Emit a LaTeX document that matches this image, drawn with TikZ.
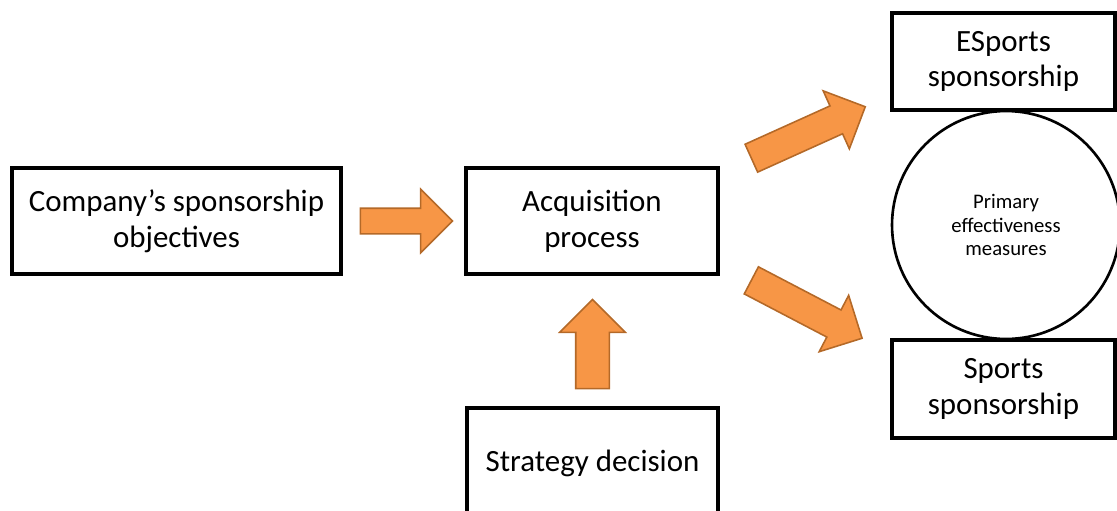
\documentclass[tikz,border=0pt]{standalone}
\usepackage{fontspec}
\setmainfont{Carlito}
\usetikzlibrary{shapes.arrows,positioning}

\definecolor{arrowfill}{HTML}{F79646}
\definecolor{arrowline}{RGB}{180,105,40}

\tikzset{
    box/.style={draw, line width=1.9pt, align=center, inner sep=0pt,
        font=\fontsize{17.6}{20.4}\selectfont},
    blockarrow/.style={single arrow, draw=arrowline, fill=arrowfill,
        line width=0.9pt, inner xsep=0pt, anchor=tail}
}

\begin{document}
\begin{tikzpicture}[x=0.02cm,y=-0.02cm]
        \useasboundingbox (0,0) rectangle (1117,511);
        % boxes
        \node[box, minimum width=6.58cm, minimum height=2.12cm] (comp) at (176.5,221) {Company’s sponsorship\\objectives};
        \node[box, minimum width=5.04cm, minimum height=2.12cm] (acq) at (592,221) {Acquisition\\process};
        \node[box, minimum width=5.02cm, minimum height=2.2cm] (strat) at (592.5,463) {Strategy decision};
        \node[box, minimum width=4.46cm, minimum height=1.94cm] (esp) at (1003.5,61.5) {ESports\\sponsorship};
        \node[box, minimum width=4.46cm, minimum height=1.96cm] (spo) at (1003.5,389) {Sports\\sponsorship};
        % measures
        \node[circle, draw, line width=1.5pt, minimum size=4.56cm, inner sep=0pt, align=center,
            font=\fontsize{11.8}{13.6}\selectfont] (pem) at (1006,225) {Primary\\effectiveness\\measures};
        % block arrows
        \node[blockarrow, inner ysep=0.24cm, single arrow head extend=0.38cm, minimum height=1.84cm]
            (toacq) at ([xshift=0.34cm]comp.east) {};
        \node[blockarrow, inner ysep=0.32cm, single arrow head extend=0.32cm, minimum height=1.78cm, rotate=90]
            (fromstrat) at ([yshift=0.34cm]strat.north) {};
        \node[blockarrow, inner ysep=0.29cm, single arrow head extend=0.33cm, minimum height=2.5cm, rotate=24.3]
            (toesp) at ([xshift=0.62cm,yshift=1.25cm]acq.east) {};
        \node[blockarrow, inner ysep=0.29cm, single arrow head extend=0.33cm, minimum height=2.5cm, rotate=-27.6]
            (tospo) at ([xshift=0.62cm,yshift=-1.18cm]acq.east) {};
    \end{tikzpicture}
\end{document}
